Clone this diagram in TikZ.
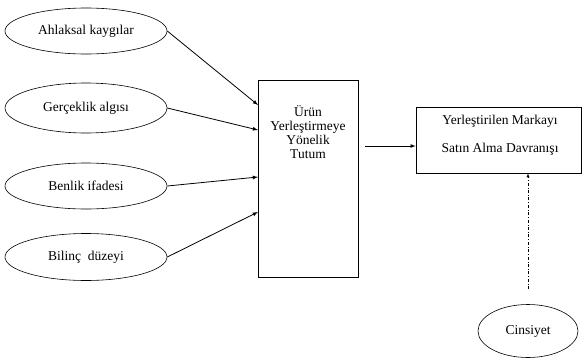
\documentclass[tikz,border=0pt]{standalone}
\usepackage{fontspec}
\setmainfont{Liberation Serif}
\usepackage{tikz}
\usetikzlibrary{arrows,shapes,positioning}

\tikzset{
  factor/.style = {draw, semithick, ellipse, minimum width = 162pt, minimum height = 46pt, inner sep = 0pt},
  kutu/.style = {draw, semithick, rectangle, inner sep = 0pt},
  ok/.style = {-latex, thick},
}

\begin{document}
\begin{tikzpicture}[x = 1pt, y = -1pt, font = \fontsize{13.5}{15}\selectfont]

\useasboundingbox (0,0) rectangle (582,362);

% left factors
\node[factor] (ahlak) at (86,31) {Ahlaksal kaygılar};
\node[factor, minimum height = 50pt] (gercek) at (86,108) {Gerçeklik algısı};
\node[factor] (benlik) at (86,186) {Benlik ifadesi};
\node[factor, minimum height = 47pt] (bilinc) at (86,257) {Bilinç \ düzeyi};

% attitude box
\node[kutu, minimum width = 100pt, minimum height = 197pt] (tutum) at (308,178.5) {};
\node[align = center, font = \fontsize{13.5}{13.8}\selectfont] (tutumtxt) at (308,132) {Ürün\\Yerleştirmeye\\Yönelik\\Tutum};

% behaviour box
\node[kutu, minimum width = 165pt, minimum height = 66pt] (davranis) at (498.5,140) {};
\node[align = center, font = \fontsize{13.5}{28}\selectfont] (davranistxt) at (500,135) {Yerleştirilen Markayı\\Satın Alma Davranışı};

\node[factor, minimum width = 100pt, minimum height = 53pt] (cinsiyet) at (528,331) {Cinsiyet};

% arrows
\coordinate (t1) at (258,105);
\coordinate (t2) at (258,130);
\coordinate (t3) at (258,177);
\coordinate (t4) at (258,212);
\draw[ok] (ahlak.east) -- (t1);
\draw[ok] (gercek.east) -- (t2);
\draw[ok] (benlik.east) -- (t3);
\draw[ok] (bilinc.east) -- (t4);

\draw[ok, shorten <= 7pt] (tutum.east |- 0,146) -- (davranis.west |- 0,146);
\draw[ok, thin, dash dot, shorten <= 15pt] (cinsiyet.north) -- (cinsiyet.north |- davranis.south);

\end{tikzpicture}
\end{document}
